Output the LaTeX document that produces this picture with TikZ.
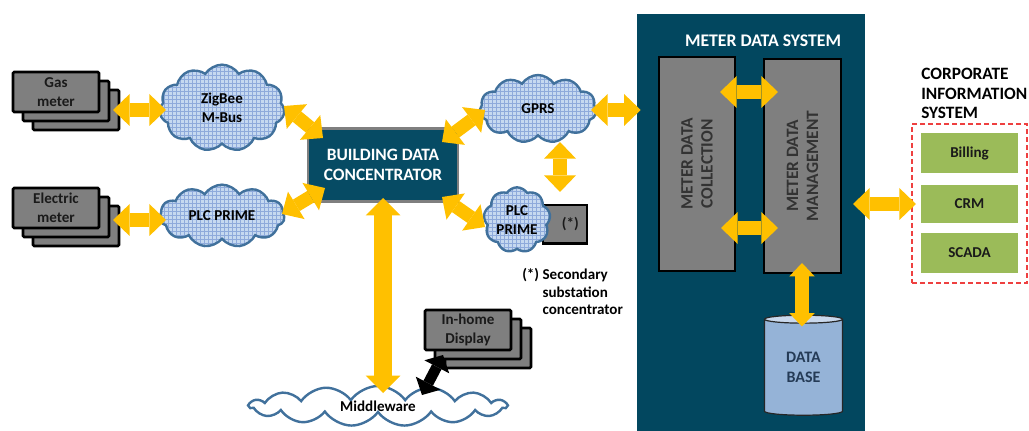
\documentclass[tikz,border=0pt]{standalone}
\usepackage{fontspec}
\setmainfont{Carlito}
\usetikzlibrary{shapes.symbols,shapes.geometric,arrows.meta,patterns,calc}

\definecolor{amber}{HTML}{FFC000}
\definecolor{petrol}{HTML}{02475F}
\definecolor{petrolbox}{HTML}{064B64}
\definecolor{slab}{HTML}{7F7F7F}
\definecolor{cloudfill}{HTML}{C6D9F0}
\definecolor{cloudgrid}{HTML}{8EAADB}
\definecolor{cloudline}{HTML}{41719C}
\definecolor{leaf}{HTML}{9BBB59}
\definecolor{dbbody}{HTML}{95B3D7}
\definecolor{dbtop}{HTML}{C9D8EC}
\definecolor{inktext}{HTML}{1A1A1A}
\definecolor{slatetext}{HTML}{333333}
\definecolor{dbtext}{HTML}{253B56}
\definecolor{dashred}{HTML}{EE4040}

\tikzset{
  txt/.style={font=\bfseries\fontsize{11.3}{14}\selectfont},
  device/.style={draw=black, line width=2pt, fill=slab, rounded corners=1pt,
    minimum width=64.5pt, minimum height=30pt, txt, text=inktext},
  net/.style={cloud, cloud puffs=11, cloud puff arc=115, cloud ignores aspect,
    draw=cloudline, line width=1.8pt, preaction={fill=cloudfill},
    pattern=grid, pattern color=cloudgrid, txt, text=black},
  netplain/.style={cloud, cloud puffs=15, cloud puff arc=110, cloud ignores aspect,
    draw=cloudline, line width=1.8pt, fill=white, txt, text=black},
  panel/.style={draw=black, line width=1pt, fill=slab, text=slatetext,
    font=\bfseries\fontsize{13}{15}\selectfont},
  appbox/.style={fill=leaf, minimum width=72.75pt, txt, text=inktext},
  link/.style={draw=amber, line width=10pt, line cap=butt,
    {Triangle[length=12.5pt,width=24pt,line width=0pt]}-{Triangle[length=12.5pt,width=24pt,line width=0pt]}},
  widelink/.style={draw=amber, line width=13pt, line cap=butt,
    {Triangle[length=13pt,width=26pt,line width=0pt]}-{Triangle[length=13pt,width=26pt,line width=0pt]}},
  slimlink/.style={draw=amber, line width=10pt, line cap=butt,
    {Triangle[length=10pt,width=19pt,line width=0pt]}-{Triangle[length=10pt,width=19pt,line width=0pt]}},
  darklink/.style={draw=black, line width=8pt, line cap=butt,
    {Triangle[length=10pt,width=21pt,line width=0pt]}-{Triangle[length=10pt,width=21pt,line width=0pt]}},
}

\begin{document}
\begin{tikzpicture}[x=0.75pt,y=-0.75pt, every node/.style={inner sep=0pt, align=center}]
\useasboundingbox (0,0) rectangle (1029,431);

% ---- metering devices (stacked cards) ----
\node[device] (gas3) at (76,110) {};
\node[device] (gas2) at (66,101) {};
\node[device] (gas)  at (56,92)  {Gas\\meter};
\node[device] (elec3) at (76,226) {};
\node[device] (elec2) at (66,217) {};
\node[device] (elec)  at (56,208) {Electric\\meter};

% ---- local networks ----
\node[net, minimum width=93.75pt, minimum height=65pt] (zig) at (222,108) {ZigBee\\M-Bus};
\node[net, minimum width=93.75pt, minimum height=47pt] (plcL) at (222,216) {PLC PRIME};

% ---- building data concentrator ----
\node[draw=slab, line width=2.2pt, fill=petrolbox, minimum width=112.5pt, minimum height=55pt,
      text=white, font=\bfseries\fontsize{13}{15}\selectfont] (bdc) at (383,165) {BUILDING DATA\\CONCENTRATOR};

% ---- wide area links ----
\node[net, minimum width=87.75pt, minimum height=51pt] (gprs) at (538,109) {GPRS};
\node[draw=black, line width=2pt, fill=slab, minimum width=33pt, minimum height=29pt,
      txt, text=inktext] (sec) at (565,224.5) {\hspace*{8pt}(*)};
\node[net, cloud puffs=9, minimum width=50pt, minimum height=49pt] (plcR) at (517,220) {PLC\\PRIME};
\node[anchor=north west, font=\bfseries\fontsize{11.3}{13.2}\selectfont, text=black] (note) at (522,267)
  {\begin{tabular}{@{}l@{\ }l@{}}(*) & Secondary\\ & substation\\ & concentrator\end{tabular}};

% ---- in-home display and middleware ----
\node[device] (home3) at (488,348) {};
\node[device] (home2) at (478,339) {};
\node[device] (home)  at (468,330) {In-home\\Display};
\node[netplain, minimum width=192.75pt, minimum height=30pt] (mw) at (378,406) {Middleware};

% ---- meter data system ----
\node[fill=petrol, minimum width=171pt, minimum height=313pt] (mds) at (751,222.5) {};
\node[text=white, font=\bfseries\fontsize{13.3}{15}\selectfont] (mdstitle) at (763,41) {METER DATA SYSTEM};
\node[panel, rotate=90, minimum width=160.5pt, minimum height=57pt] (mdc) at (697,164) {METER DATA\\COLLECTION};
\node[panel, rotate=90, minimum width=160.5pt, minimum height=57.75pt] (mdm) at (802.5,166) {METER DATA\\MANAGEMENT};
\node[cylinder, shape border rotate=90, aspect=0.23, draw=black!85, line width=0.9pt,
      cylinder uses custom fill, cylinder body fill=dbbody, cylinder end fill=dbtop,
      minimum width=58.5pt, minimum height=75pt, font=\bfseries\fontsize{12}{15}\selectfont,
      text=dbtext] (db) at (803.5,367.5) {DATA\\BASE};

% ---- corporate information system ----
\node[anchor=north west, align=left, text=black, font=\bfseries\fontsize{13}{14.6}\selectfont] (cistitle) at (921,68)
  {CORPORATE\\INFORMATION\\SYSTEM};
\node[draw=dashred, line width=1.1pt, dash pattern=on 3.5pt off 2.5pt,
      minimum width=86.25pt, minimum height=119.25pt] (cis) at (969.5,203.5) {};
\node[appbox, minimum height=30pt]   (bill)  at (969.5,153) {Billing};
\node[appbox, minimum height=28.5pt] (crm)   at (969.5,204) {CRM};
\node[appbox, minimum height=30pt]   (scada) at (969.5,253) {SCADA};

% ---- data links ----
\draw[link] ($(gas3.center)+(37,0)$) -- ($(zig.center)+(-56,2)$);
\draw[link] ($(elec3.center)+(37,-6)$) -- ($(plcL.center)+(-56,4)$);
\draw[link] ($(zig.center)+(62,-2)$) -- ($(bdc.center)+(-60,-27)$);
\draw[link] ($(plcL.center)+(60,-2)$) -- ($(bdc.center)+(-58,23)$);
\draw[link] ($(bdc.center)+(59,-23)$) -- ($(gprs.center)+(-53,1)$);
\draw[link] ($(bdc.center)+(59,32)$) -- ($(plcR.center)+(-32,7)$);
\draw[link] ($(gprs.center)+(22,33)$) -- ($(plcR.center)+(43,-28)$);
\draw[link] ($(gprs.center)+(53,1)$) -- ($(gprs.center -| mds.west)+(4,1)$);
\draw[widelink] ($(bdc.center)+(0,33)$) -- ($(mw.center)+(5,-13)$);
\draw[link] ($(mdc.center)+(23,-72)$) -- ($(mdm.center)+(-24.5,-74)$);
\draw[link] ($(mdc.center)+(24,64)$) -- ($(mdm.center)+(-24.5,62)$);
\draw[slimlink] ($(mdm.center)+(-0.5,97)$) -- ($(db.center)+(-1.5,-41)$);
\draw[link] ($(mds.center)+(102,-18.5)$) -- ($(cis.center)+(-53.5,0.5)$);
\draw[darklink] ($(mw.center)+(44,-11)$) -- ($(home.center)+(-25,25)$);
\end{tikzpicture}
\end{document}
